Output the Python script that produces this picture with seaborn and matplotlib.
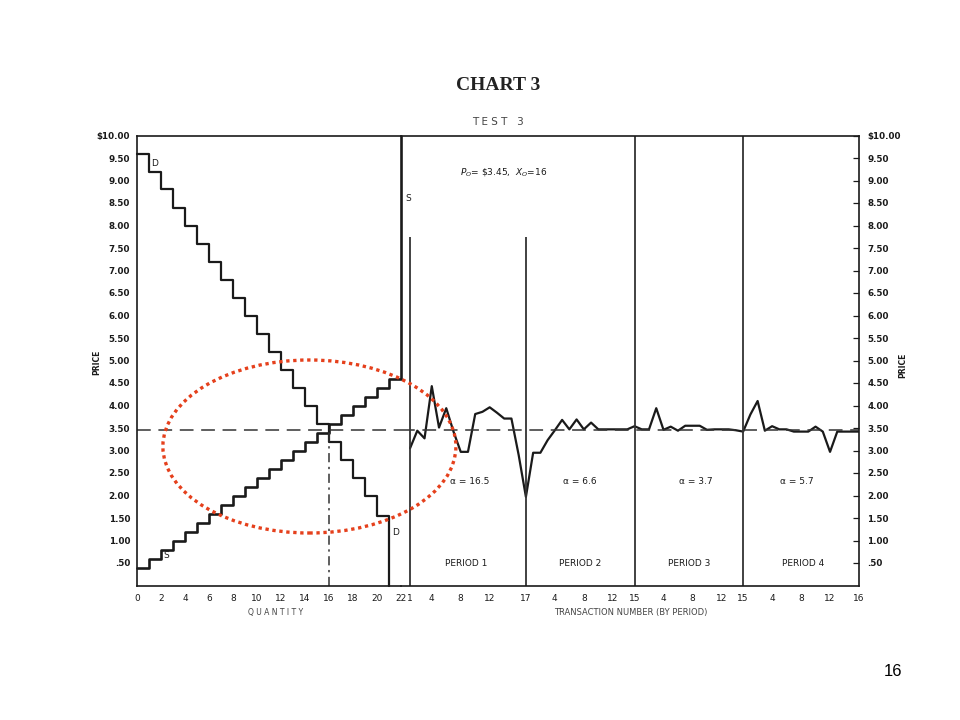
import numpy as np
import pandas as pd
import matplotlib
matplotlib.use("Agg")
import matplotlib.pyplot as plt
from matplotlib.patches import Ellipse
import seaborn as sns

# Demand (D) and supply (S) step prices, one per unit of quantity from 0
demand_prices = [9.60, 9.20, 8.80, 8.40, 8.00, 7.60, 7.20, 6.80, 6.40, 6.00, 5.60,
                 5.20, 4.80, 4.40, 4.00, 3.60, 3.20, 2.80, 2.40, 2.00, 1.55]
supply_prices = [0.40, 0.60, 0.80, 1.00, 1.20, 1.40, 1.60, 1.80, 2.00, 2.20, 2.40,
                 2.60, 2.80, 3.00, 3.20, 3.40, 3.60, 3.80, 4.00, 4.20, 4.40, 4.60]
eq_price = 3.45
eq_qty = 16
price_max = 10.0
qty_max = 22

# Transaction prices per trading period
period_names = ["PERIOD 1", "PERIOD 2", "PERIOD 3", "PERIOD 4"]
period_alpha = ["16.5", "6.6", "3.7", "5.7"]
period_prices = [
    [3.05, 3.44, 3.27, 4.43, 3.51, 3.94, 3.42, 2.97, 2.97, 3.81, 3.86, 3.96, 3.84, 3.71, 3.71, 2.90, 1.97],
    [2.95, 2.95, 3.23, 3.45, 3.68, 3.47, 3.69, 3.47, 3.62, 3.47, 3.47, 3.47, 3.47, 3.47, 3.54],
    [3.47, 3.47, 3.94, 3.46, 3.53, 3.44, 3.55, 3.55, 3.55, 3.46, 3.47, 3.47, 3.47, 3.45, 3.42],
    [3.80, 4.10, 3.44, 3.54, 3.47, 3.47, 3.42, 3.42, 3.42, 3.53, 3.42, 2.97, 3.42, 3.42, 3.42, 3.42],
]
period_ticks = [[1, 4, 8, 12, 17], [4, 8, 12, 15], [4, 8, 12, 15], [4, 8, 12, 16]]
period1_marker_top = 7.75

price_ticks = [0.5, 1.0, 1.5, 2.0, 2.5, 3.0, 3.5, 4.0, 4.5, 5.0, 5.5, 6.0, 6.5,
               7.0, 7.5, 8.0, 8.5, 9.0, 9.5, 10.0]
qty_ticks = [0, 2, 4, 6, 8, 10, 12, 14, 16, 18, 20, 22]


def price_label(v):
    if v == 10.0:
        return "$10.00"
    if v < 1:
        return f"{v:.2f}"[1:]
    return f"{v:.2f}"


def main():
    sns.set_style("white")
    plt.rcParams["font.family"] = ["DejaVu Sans"]
    ink = "#1a1a1a"

    # long-form table of the transactions, numbered continuously across periods
    rows = []
    starts = []
    start = 0
    for k, prices in enumerate(period_prices):
        starts.append(start)
        for t, p in enumerate(prices, 1):
            rows.append({"period": k + 1, "t": t, "g": start + t, "price": p})
        start += len(prices)
    trans = pd.DataFrame(rows)
    g_end = start

    fig = plt.figure(figsize=(9.6, 7.2), dpi=100)
    W, H = 960, 720
    bottom = 1 - 585.5 / H
    height = 450 / H
    ax_t = fig.add_axes([401 / W, bottom, 458 / W, height])
    ax_q = fig.add_axes([137 / W, bottom, 264 / W, height])
    ax_q.patch.set_visible(False)

    # --- quantity panel: demand and supply steps
    dq = list(range(len(demand_prices))) + [len(demand_prices), len(demand_prices)]
    dp = demand_prices + [demand_prices[-1], 0.0]
    sq = list(range(len(supply_prices))) + [len(supply_prices), len(supply_prices)]
    sp = supply_prices + [supply_prices[-1], price_max]
    sns.lineplot(x=dq, y=dp, ax=ax_q, color=ink, lw=1.6, drawstyle="steps-post",
                 estimator=None, sort=False)
    sns.lineplot(x=sq, y=sp, ax=ax_q, color=ink, lw=1.9, drawstyle="steps-post",
                 estimator=None, sort=False)
    for ln in ax_q.lines:
        ln.set_clip_on(False)
    ax_q.axhline(eq_price, color="#333333", lw=1.1, dashes=(9, 5))
    ax_q.vlines(eq_qty, 0, eq_price, color="#333333", lw=1.1, linestyles=(0, (6, 3, 1.5, 3)))

    ax_q.set_xlim(0, qty_max + 0.02)
    ax_q.set_ylim(0, price_max)
    ax_q.set_xticks(qty_ticks)
    ax_q.set_xticklabels([str(v) for v in qty_ticks])
    ax_q.set_yticks(price_ticks)
    ax_q.set_yticklabels([price_label(v) for v in price_ticks])
    ax_q.tick_params(axis="x", direction="in", length=4, width=0.9, colors=ink,
                     labelsize=6.5, pad=6)
    ax_q.tick_params(axis="y", direction="out", length=3, width=0.9, colors=ink,
                     labelsize=6.3, pad=2)
    for lab in ax_q.get_yticklabels():
        lab.set_fontweight("bold")
    ax_q.spines["right"].set_visible(False)

    ax_q.text(1.5, 9.38, "D", fontsize=6.5, color=ink, ha="center", va="center")
    ax_q.text(2.45, 0.67, "S", fontsize=6.5, color=ink, ha="center", va="center")
    ax_q.text(21.55, 1.18, "D", fontsize=6.5, color=ink, ha="center", va="center")

    # --- transaction panel
    sns.lineplot(data=trans, x="g", y="price", ax=ax_t, color=ink, lw=1.6,
                 estimator=None, sort=False)
    ax_t.axhline(eq_price, color="#333333", lw=1.1, dashes=(9, 5))
    ax_t.vlines([1, starts[1]], 0, period1_marker_top, color="#333333", lw=1.3)
    for s in starts[2:]:
        ax_t.axvline(s, color="#333333", lw=1.3)

    ax_t.set_xlim(-0.25, g_end)
    ax_t.set_ylim(0, price_max)
    tick_pos, tick_lab = [], []
    for s, ticks in zip(starts, period_ticks):
        for t in ticks:
            tick_pos.append(s + t)
            tick_lab.append(str(t))
    ax_t.set_xticks(tick_pos)
    ax_t.set_xticklabels(tick_lab)
    ax_t.yaxis.tick_right()
    ax_t.set_yticks(price_ticks)
    ax_t.set_yticklabels([price_label(v) for v in price_ticks])
    ax_t.tick_params(axis="x", direction="in", length=4, width=0.9, colors=ink,
                     labelsize=6.5, pad=6)
    ax_t.tick_params(axis="y", direction="in", length=4, width=0.9, colors=ink,
                     labelsize=6.3, pad=6)
    for lab in ax_t.get_yticklabels():
        lab.set_fontweight("bold")
    ax_t.spines["left"].set_visible(False)
    ax_t.set_xlabel("")
    ax_t.set_ylabel("")
    ax_q.set_xlabel("")
    ax_q.set_ylabel("")

    for ax in (ax_q, ax_t):
        for sp_name in ("top", "bottom", "left", "right"):
            ax.spines[sp_name].set_color(ink)
            ax.spines[sp_name].set_linewidth(1.2)

    alpha_x = [9.3, 24.5, 40.4, 54.4]
    period_x = [8.7, 24.5, 39.5, 55.35]
    for k in range(4):
        ax_t.text(alpha_x[k], 2.32, f"α = {period_alpha[k]}", fontsize=6.5, color=ink,
                  ha="center", va="center")
        ax_t.text(period_x[k], 0.5, period_names[k], fontsize=6.5, color=ink,
                  ha="center", va="center")
    ax_t.text(0.7, 8.6, "S", fontsize=6.5, color=ink, ha="center", va="center")
    ax_t.text(7.9, 9.2, r"$P_O$= \$3.45,  $X_O$=16", fontsize=6.5, color=ink,
              ha="left", va="center")

    # --- page texts
    fig.text(498 / W, 1 - 85 / H, "CHART 3", fontsize=14, fontweight="bold",
             family="Liberation Serif", color="#222222", ha="center", va="center")
    fig.text(498 / W, 1 - 122 / H, "T E S T   3", fontsize=7.5, color="#444444",
             ha="center", va="center")
    fig.text(97 / W, 1 - 362 / H, "PRICE", fontsize=5.5, fontweight="bold",
             rotation=90, color=ink, ha="center", va="center")
    fig.text(903 / W, 1 - 365 / H, "PRICE", fontsize=5.5, fontweight="bold",
             rotation=90, color=ink, ha="center", va="center")
    fig.text(276 / W, 1 - 613 / H, "Q U A N T I T Y", fontsize=5.5, color="#444444",
             ha="center", va="center")
    fig.text(631 / W, 1 - 613 / H, "TRANSACTION NUMBER (BY PERIOD)", fontsize=6,
             color="#444444", ha="center", va="center")
    fig.text(893 / W, 1 - 672 / H, "16", fontsize=12, family="Liberation Sans",
             color="black", ha="center", va="center")

    # red dotted highlight around the crossing
    ell = Ellipse((309.4 / W, 1 - 446.5 / H), 293 / W, 173 / H, transform=fig.transFigure,
                  fill=False, edgecolor="#e5401c", lw=2.4, linestyle=(0, (1, 1.1)))
    fig.add_artist(ell)

    fig.savefig("out.png", dpi=100)


if __name__ == "__main__":
    main()
